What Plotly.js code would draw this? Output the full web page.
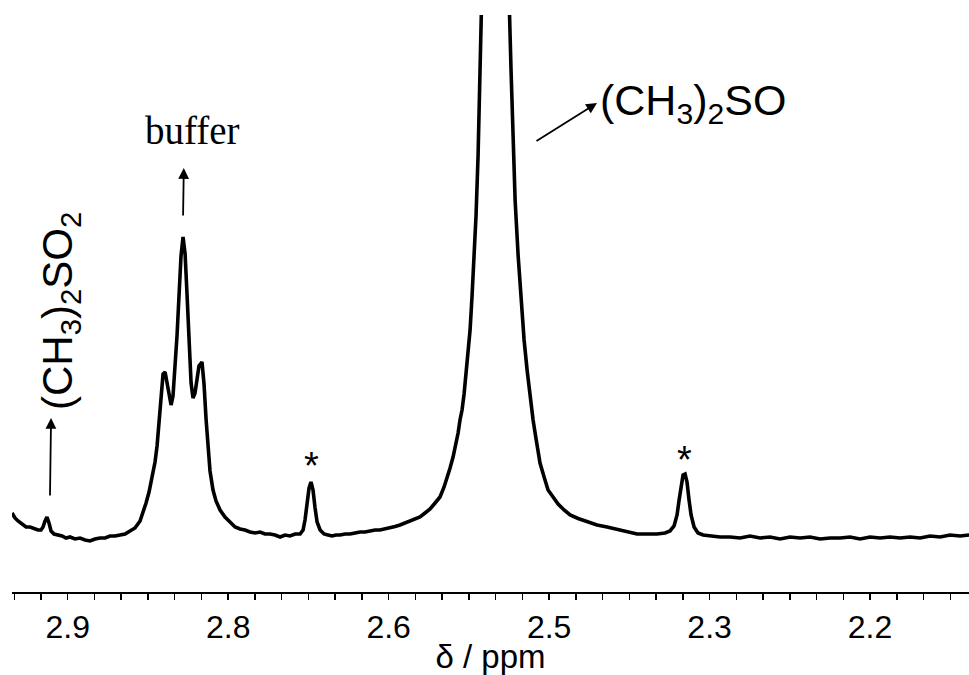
<!DOCTYPE html>
<html>
<head>
<meta charset="utf-8">
<script src="https://cdn.plot.ly/plotly-3.0.1.min.js"></script>
<style>html,body{margin:0;padding:0;background:#fff;}#chart{width:969px;height:675px;}</style>
</head>
<body>
<div id="chart"></div>
<script>
// Chemical shift (ppm)
const shiftPpm = [
2.9521,2.9493,2.9465,2.9427,2.9390,2.9352,2.9315,2.9278,2.9250,2.9231,2.9212,2.9194,2.9175,2.9156,2.9128,2.9091,2.9053,2.9016,2.8979,2.8932,
2.8885,2.8838,2.8792,2.8745,2.8698,2.8651,2.8605,2.8558,2.8511,2.8464,2.8418,2.8371,2.8324,2.8296,2.8268,2.8240,2.8212,2.8184,2.8165,2.8147,
2.8128,2.8109,2.8090,2.8072,2.8053,2.8034,2.8016,2.7997,2.7978,2.7959,2.7941,2.7922,2.7903,2.7885,2.7866,2.7847,2.7829,2.7810,2.7791,2.7773,
2.7745,2.7726,2.7707,2.7688,2.7670,2.7642,2.7614,2.7576,2.7530,2.7483,2.7436,2.7389,2.7343,2.7296,2.7249,2.7202,2.7156,2.7109,2.7062,2.7015,
2.6969,2.6922,2.6875,2.6828,2.6800,2.6782,2.6763,2.6744,2.6726,2.6707,2.6688,2.6669,2.6641,2.6604,2.6567,2.6529,2.6492,2.6454,2.6408,2.6361,
2.6314,2.6268,2.6221,2.6174,2.6127,2.6081,2.6034,2.5987,2.5940,2.5894,2.5847,2.5800,2.5753,2.5707,2.5660,2.5613,2.5566,2.5520,2.5482,2.5454,
2.5426,2.5398,2.5370,2.5351,2.5333,2.5314,2.5295,2.5276,2.5258,2.5239,2.5220,2.5202,2.5183,2.5164,2.5146,2.5132,2.5118,2.5001,2.4884,2.4870,
2.4856,2.4837,2.4818,2.4790,2.4762,2.4734,2.4706,2.4678,2.4650,2.4622,2.4585,2.4547,2.4510,2.4463,2.4416,2.4360,2.4304,2.4229,2.4145,2.4052,
2.3958,2.3865,2.3771,2.3678,2.3585,2.3491,2.3416,2.3370,2.3332,2.3304,2.3285,2.3267,2.3248,2.3229,2.3211,2.3192,2.3173,2.3145,2.3108,2.3061,
2.2996,2.2902,2.2809,2.2715,2.2622,2.2528,2.2435,2.2341,2.2248,2.2154,2.2061,2.1967,2.1874,2.1780,2.1687,2.1593,2.1500,2.1406,2.1313,2.1219,
2.1126,2.1032,2.0939,2.0845,2.0752,2.0658,2.0574
];
// Signal intensity (arbitrary units)
const intensity = [
79,74,71,68,65,65,63,62,62,65,71,75,69,61,58,57,56,54,55,53,
54,52,51,53,54,54,56,56,57,58,61,64,71,79,89,100,113,130,146,167,
195,218,220,210,195,187,196,222,257,298,336,355,338,298,248,209,194,199,213,226,
230,208,173,143,121,102,91,82,75,70,65,63,62,60,59,60,58,58,57,55,
57,56,58,58,62,72,88,104,110,102,84,70,62,58,57,56,57,57,58,58,
59,60,60,61,62,62,63,64,65.5,67,69,71,73,75,79,83,89,95,105,114,
124,135,149,159,172,182,198,220,242,262,297,334,377,437,502,562,652,1600,652,577,
522,457,392,337,292,252,222,194,172,153,129,115,102,95,88,82,77,73.5,70,67,
65,62.5,60,58,58,58,59,61,66,77,92,107,117,118,110,92,77,65,59,57,
56,55,55,54,56,54,55,53,55,54,55,53,54,54,55,53,55,54,55,54,
55,54,56,55,57,56,57
];
// Axis ticks
const tickVals = [2.9, 2.75, 2.6, 2.45, 2.3, 2.15];
const tickText = ["2.9", "2.8", "2.6", "2.5", "2.3", "2.2"];
// Labels
const labelBuffer = "buffer";
const labelDMSO2 = "(CH<sub>3</sub>)<sub>2</sub>SO<sub>2</sub>";
const labelDMSO = "(CH<sub>3</sub>)<sub>2</sub>SO";
const labelStar = "*";

const sans = "Liberation Sans, Arial, Helvetica, sans-serif";
const serif = "Liberation Serif, Times New Roman, serif";

const trace = {
  x: shiftPpm, y: intensity, type: "scatter", mode: "lines",
  line: {color: "#000", width: 3.6}, hoverinfo: "skip"
};

function arrow(xh, yh, xt, yt) {
  return {x: xh, y: yh, ax: xt, ay: yt, xref: "x", yref: "y", axref: "x", ayref: "y",
    text: "", showarrow: true, arrowhead: 2, arrowsize: 1.2, arrowwidth: 1.8, arrowcolor: "#000"};
}

const layout = {
  width: 969, height: 675,
  margin: {l: 12, r: 0, t: 15, b: 83},
  paper_bgcolor: "#fff", plot_bgcolor: "#fff",
  showlegend: false,
  xaxis: {
    range: [2.9521, 2.0575],
    showline: true, linecolor: "#000", linewidth: 1.5,
    showgrid: false, zeroline: false,
    ticks: "outside", ticklen: 6, tickwidth: 1.5, tickcolor: "#000",
    tickmode: "array", tickvals: tickVals, ticktext: tickText,
    tickfont: {family: sans, size: 32, color: "#000"},
    minor: {ticks: "outside", ticklen: 6, tickwidth: 1.5, tickcolor: "#000", dtick: 0.025, tick0: 2.9, showgrid: false},
    title: {text: "δ / ppm", font: {family: sans, size: 33, color: "#000"}, standoff: 5}
  },
  yaxis: {visible: false, range: [0, 577], fixedrange: true},
  annotations: [
    {x: 2.7838, y: 462, xref: "x", yref: "y", text: labelBuffer, showarrow: false,
      font: {family: serif, size: 39, color: "#000"}, xanchor: "center", yanchor: "middle"},
    arrow(2.7915, 424, 2.7922, 375),
    {x: 2.9072, y: 281, xref: "x", yref: "y", text: labelDMSO2, showarrow: false, textangle: -90,
      font: {family: sans, size: 42, color: "#000"}, xanchor: "center", yanchor: "middle"},
    arrow(2.9156, 174, 2.9166, 95),
    {x: 2.3157, y: 489, xref: "x", yref: "y", text: labelDMSO, showarrow: false,
      font: {family: sans, size: 43, color: "#000"}, xanchor: "center", yanchor: "middle"},
    arrow(2.4052, 489, 2.4632, 450),
    {x: 2.6726, y: 126, xref: "x", yref: "y", text: labelStar, showarrow: false,
      font: {family: sans, size: 38, color: "#000"}, xanchor: "center", yanchor: "middle"},
    {x: 2.3239, y: 132, xref: "x", yref: "y", text: labelStar, showarrow: false,
      font: {family: sans, size: 38, color: "#000"}, xanchor: "center", yanchor: "middle"}
  ]
};

Plotly.newPlot("chart", [trace], layout, {staticPlot: true, displayModeBar: false});
</script>
</body>
</html>
